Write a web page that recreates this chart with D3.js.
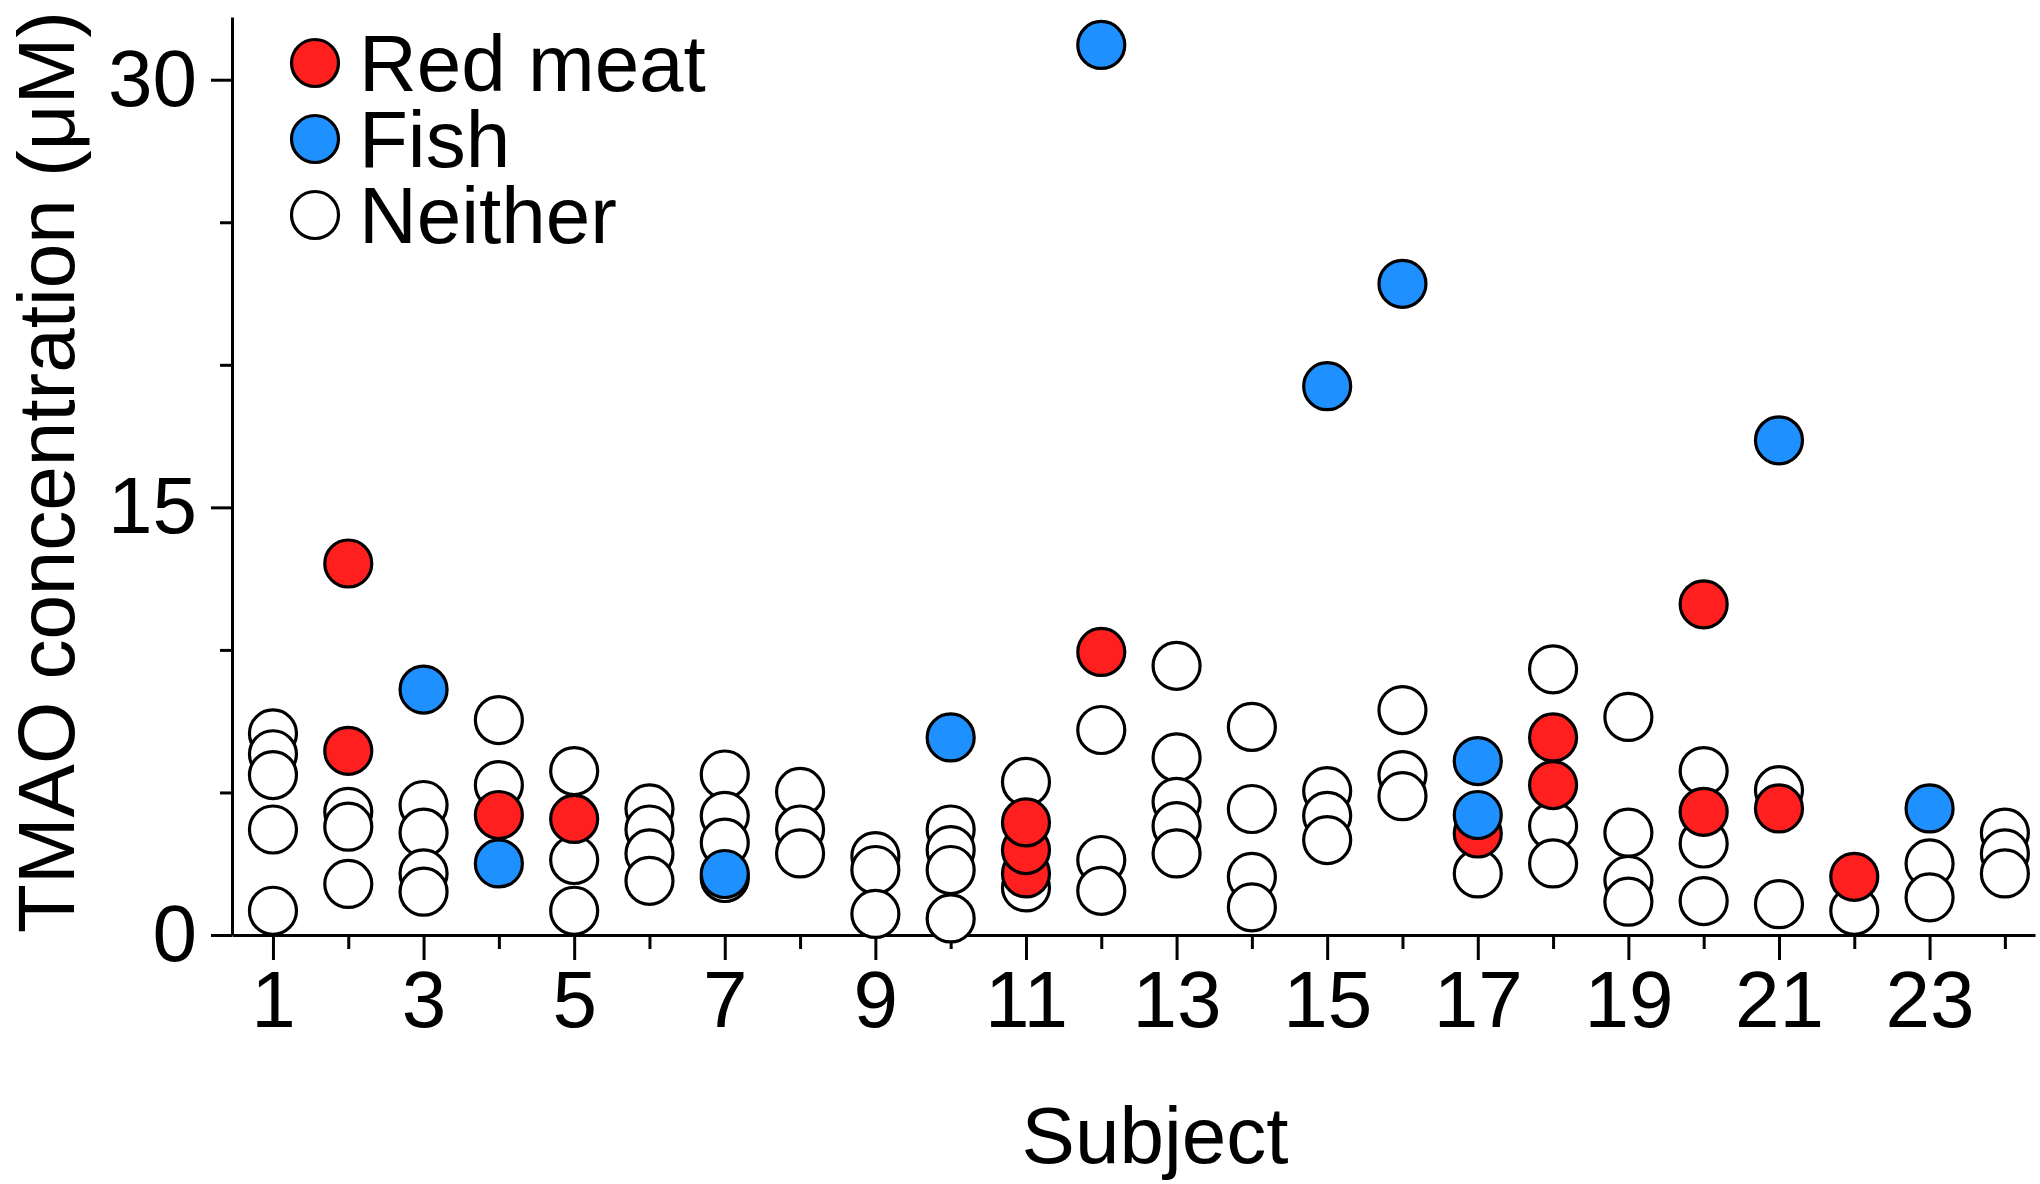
<!DOCTYPE html>
<html><head><meta charset="utf-8">
<script src="https://cdn.jsdelivr.net/npm/d3@7"></script>
<style>
html,body{margin:0;padding:0;background:#fff;}
svg{display:block;font-family:"Liberation Sans",Arial,sans-serif;}
</style></head>
<body>
<svg id="chart" width="2040" height="1184"></svg>
<script>
// ---- data (subject, TMAO µM) ----
const neither = [
  [1,7.07],[1,6.34],[1,5.61],[1,3.70],[1,0.85],
  [2,4.32],[2,3.80],[2,1.79],
  [3,4.56],[3,3.59],[3,2.16],[3,1.52],
  [4,7.54],[4,5.26],
  [5,5.75],[5,2.63],[5,0.85],
  [6,4.44],[6,3.70],[6,2.86],[6,1.90],
  [7,5.63],[7,4.18],[7,3.24],[7,2.0],
  [8,5.02],[8,3.70],[8,2.86],
  [9,2.77],[9,2.28],[9,0.74],
  [10,3.70],[10,2.98],[10,2.28],[10,0.58],
  [11,5.37],[11,1.67],
  [12,7.19],[12,2.63],[12,1.55],
  [13,9.44],[13,6.23],[13,4.67],[13,3.82],[13,2.86],
  [14,7.30],[14,4.42],[14,2.04],[14,0.97],
  [15,5.05],[15,4.18],[15,3.33],
  [16,7.89],[16,5.61],[16,4.87],
  [17,2.16],
  [18,9.32],[18,3.82],[18,2.51],
  [19,7.65],[19,3.59],[19,1.93],[19,1.17],
  [20,5.75],[20,3.21],[20,1.19],
  [21,5.08],[21,1.08],
  [22,0.85],
  [23,2.51],[23,1.32],
  [24,3.59],[24,2.86],[24,2.16]
];
const redMeat = [
  [2,13.03],[2,6.46],
  [4,4.21],
  [5,4.07],
  [11,2.16],[11,2.98],[11,3.95],
  [12,9.93],
  [17,3.56],
  [18,5.26],[18,6.93],
  [20,11.60],[20,4.32],
  [21,4.44],
  [22,2.04]
];
const fish = [
  [3,8.61],
  [4,2.51],
  [7,2.14],
  [10,6.93],
  [12,31.22],
  [15,19.25],
  [16,22.84],
  [17,4.21],[17,6.10],
  [21,17.35],
  [23,4.44]
];
const subjects = d3.range(1,25);
const majorX = subjects.filter(d => d % 2 === 1);
const minorX = subjects.filter(d => d % 2 === 0);
const majorY = [0,15,30];
const minorY = [5,10,20,25];
const legendItems = [
  {label:"Red meat", key:"red"},
  {label:"Fish", key:"fish"},
  {label:"Neither", key:"neither"}
];
const colors = {red:"#ff1f1f", fish:"#1e90ff", neither:"#ffffff"};

// ---- chart ----
const svg = d3.select("#chart");
const x = d3.scaleLinear().domain([0.456, 24.4]).range([232, 2035]);
const y = d3.scaleLinear().domain([0, 32.2]).range([935, 17]);
const FS = 80;

// x axis
const gx = svg.append("g").attr("transform", `translate(0,${y(0)})`);
gx.call(d3.axisBottom(x).tickValues(majorX).tickSize(25).tickSizeOuter(0).tickPadding(10).tickFormat(d3.format("d")));
gx.append("g").call(d3.axisBottom(x).tickValues(minorX).tickSize(14).tickSizeOuter(0).tickFormat(""))
  .select(".domain").remove();
gx.selectAll("path,line").attr("stroke","#000").attr("stroke-width",3);
gx.selectAll("text").attr("font-size",FS).attr("fill","#000").attr("font-family","Liberation Sans, Arial, sans-serif");

// y axis
const gy = svg.append("g").attr("transform", `translate(${x(0.456)},0)`);
gy.call(d3.axisLeft(y).tickValues(majorY).tickSize(21).tickSizeOuter(0).tickPadding(14).tickFormat(d3.format("d")));
gy.append("g").call(d3.axisLeft(y).tickValues(minorY).tickSize(12).tickSizeOuter(0).tickFormat(""))
  .select(".domain").remove();
gy.selectAll("path,line").attr("stroke","#000").attr("stroke-width",3);
gy.selectAll("text").attr("font-size",FS).attr("fill","#000").attr("font-family","Liberation Sans, Arial, sans-serif");

// points
const R = 23.5;
function drawPts(data, key){
  svg.append("g").selectAll("circle").data(data).join("circle")
    .attr("cx", d => x(d[0])).attr("cy", d => y(d[1])).attr("r", R)
    .attr("fill", colors[key]).attr("stroke","#000").attr("stroke-width",3.2);
}
drawPts(neither, "neither");
drawPts(redMeat, "red");
drawPts(fish, "fish");

// legend
const lg = svg.append("g").attr("transform","translate(315,63)");
legendItems.forEach((it,i) => {
  const g = lg.append("g").attr("transform", `translate(0,${i*76})`);
  g.append("circle").attr("r", R).attr("fill", colors[it.key]).attr("stroke","#000").attr("stroke-width",3.2);
  g.append("text").attr("x", 44).attr("y", 28).attr("font-size", FS).attr("fill","#000").text(it.label);
});

// axis titles
svg.append("text").attr("x", 1155).attr("y", 1163).attr("text-anchor","middle")
  .attr("font-size", FS).attr("fill","#000").text("Subject");
svg.append("text").attr("transform","translate(74,472) rotate(-90)").attr("text-anchor","middle")
  .attr("font-size", FS).attr("fill","#000").text("TMAO concentration (μM)");
</script>
</body></html>
